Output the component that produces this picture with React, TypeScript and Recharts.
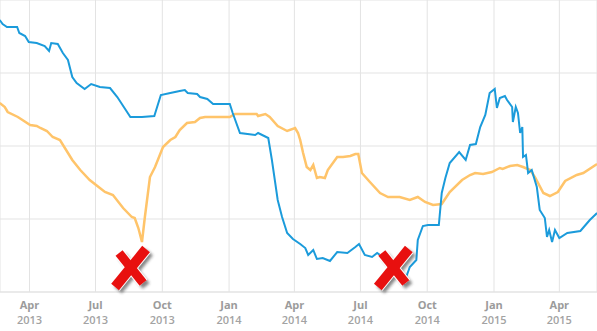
import { LineChart, Line, XAxis, YAxis, CartesianGrid, ReferenceDot } from "recharts";

// x = days since 2013-01-01, y = index value
const blueDays = [49, 53, 59, 73, 76, 84, 89, 100, 111, 117, 120, 129, 136, 143, 149, 155, 166, 175, 187, 201, 211, 229, 245, 262, 271, 284, 297, 304, 308, 321, 325, 335, 343, 366, 370, 380, 401, 405, 419, 424, 432, 438, 445, 453, 463, 470, 474, 481, 486, 494, 504, 514, 528, 539, 544, 552, 562, 569, 587, 600, 606, 614, 623, 625, 632, 639, 654, 658, 663, 669, 682, 691, 697, 705, 711, 718, 724, 731, 734, 738, 745, 748, 755, 756, 760, 763, 766, 769, 770, 774, 777, 782, 789, 793, 800, 803, 806, 810, 814, 820, 831, 849, 862, 872];
const blueValues = [272, 268, 265, 265, 259, 256, 250, 249, 246, 241, 249, 248, 239, 232, 215, 209, 203, 208, 205, 204, 195, 175, 175, 176, 197, 199, 201, 202, 199, 198, 195, 193, 188, 188, 179, 159, 157, 159, 154, 132, 92, 75, 59, 53, 48, 44, 37, 42, 33, 34, 31, 40, 39, 45, 48, 37, 35, 39, 30, 14, 9, 25, 32, 52, 66, 67, 67, 99, 114, 129, 140, 132, 147, 148, 165, 177, 199, 203, 184, 194, 196, 192, 185, 170, 185, 179, 159, 165, 135, 137, 119, 122, 105, 82, 74, 55, 62, 50, 62, 54, 59, 61, 72, 79];

const orangeDays = [49, 56, 60, 74, 91, 100, 105, 114, 122, 132, 149, 160, 173, 187, 194, 205, 219, 231, 235, 240, 245, 249, 256, 263, 274, 284, 291, 297, 307, 318, 325, 332, 357, 366, 373, 380, 403, 405, 415, 421, 432, 445, 456, 460, 463, 467, 472, 477, 481, 486, 490, 497, 501, 514, 522, 532, 539, 543, 548, 559, 573, 584, 600, 614, 625, 635, 646, 658, 669, 686, 697, 704, 715, 727, 738, 742, 752, 762, 770, 780, 787, 798, 807, 818, 828, 844, 853, 872];
const orangeValues = [189, 185, 180, 175, 167, 166, 164, 161, 155, 152, 132, 122, 112, 104, 100, 97, 84, 75, 74, 64, 50, 75, 115, 125, 145, 152, 155, 162, 169, 170, 174, 175, 175, 175, 178, 178, 178, 176, 178, 175, 166, 161, 164, 159, 152, 139, 125, 122, 127, 114, 115, 114, 122, 135, 135, 136, 138, 138, 119, 110, 99, 95, 95, 92, 95, 90, 87, 88, 100, 112, 117, 119, 118, 120, 124, 123, 126, 127, 125, 122, 114, 99, 96, 100, 111, 117, 119, 128];

const tickDays = [90, 181, 273, 365, 455, 546, 638, 730, 820];
const tickMonths = ["Apr", "Jul", "Oct", "Jan", "Apr", "Jul", "Oct", "Jan", "Apr"];
const tickYears = ["2013", "2013", "2013", "2014", "2014", "2014", "2014", "2015", "2015"];

const markerDays = [230, 592];
const markerValue = 24;

const blueData = blueDays.map((d, i) => ({ day: d, value: blueValues[i] }));
const orangeData = orangeDays.map((d, i) => ({ day: d, value: orangeValues[i] }));

const DateTick = (props: any) => {
  const { x, y, payload } = props;
  const i = tickDays.indexOf(payload.value);
  return (
    <text x={x} y={y} textAnchor="middle" fontSize={11} fontFamily="'Open Sans', sans-serif">
      <tspan x={x} dy={17} fill="#9b9b9b" fontWeight={700}>
        {tickMonths[i]}
      </tspan>
      <tspan x={x} dy={15} fill="#a3a3a3" fontWeight={600}>
        {tickYears[i]}
      </tspan>
    </text>
  );
};

const CrossMark = (props: any) => {
  const { cx, cy } = props;
  return (
    <g>
      <g transform={`translate(${cx + 3},${cy + 3})`} opacity={0.55} filter="url(#xshadow)">
        <line x1={15} y1={-19} x2={-16} y2={19} stroke="#222" strokeWidth={10} />
        <line x1={-12} y1={-15} x2={12} y2={15} stroke="#222" strokeWidth={9} />
      </g>
      <g transform={`translate(${cx},${cy})`}>
        <line x1={15} y1={-19} x2={-16} y2={19} stroke="#fff" strokeWidth={12} />
        <line x1={-12} y1={-15} x2={12} y2={15} stroke="#fff" strokeWidth={11} />
        <line x1={-12} y1={-15} x2={12} y2={15} stroke="#e8100f" strokeWidth={9} />
        <line x1={15} y1={-19} x2={-16} y2={19} stroke="#e8100f" strokeWidth={10} />
      </g>
    </g>
  );
};

export default function App() {
  return (
    <div style={{ width: 597, height: 331 }}>
      <style>{"body{margin:0;background:#fff}"}</style>
      <LineChart width={597} height={331} margin={{ top: 0, right: 0, left: 0, bottom: 0 }}>
        <defs>
          <filter id="xshadow" x="-50%" y="-50%" width="200%" height="200%">
            <feGaussianBlur stdDeviation="1.8" />
          </filter>
        </defs>
        <CartesianGrid stroke="#e3e3e3" strokeWidth={1} />
        <XAxis
          dataKey="day"
          type="number"
          domain={[49.4, 871.9]}
          ticks={tickDays}
          allowDataOverflow
          height={39}
          tickLine={false}
          tickSize={0}
          tickMargin={0}
          axisLine={{ stroke: "#e3e3e3" }}
          tick={<DateTick />}
          interval={0}
        />
        <YAxis hide type="number" domain={[0, 292]} ticks={[73, 146, 219, 292]} />
        <Line
          data={orangeData}
          dataKey="value"
          type="linear"
          stroke="#ffc46a"
          strokeWidth={2.5}
          dot={false}
          isAnimationActive={false}
        />
        <Line
          data={blueData}
          dataKey="value"
          type="linear"
          stroke="#1b9bdb"
          strokeWidth={2}
          dot={false}
          isAnimationActive={false}
        />
        {markerDays.map((d) => (
          <ReferenceDot key={d} x={d} y={markerValue} r={0} shape={<CrossMark />} />
        ))}
      </LineChart>
    </div>
  );
}
